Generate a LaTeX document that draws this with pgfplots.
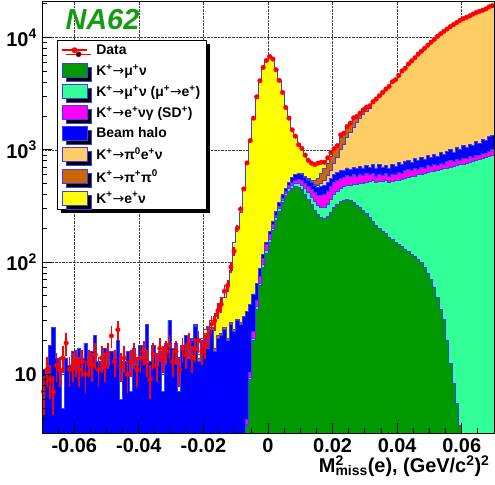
\documentclass[border=0pt]{standalone}
\usepackage{fontspec}
\setmainfont{Liberation Sans}
\newfontfamily\dejavu{DejaVu Sans}
\usepackage{pgfplots}
\pgfplotsset{compat=1.18}
\usepackage{pgfplotstable}
\usetikzlibrary{shadows}

\definecolor{cG}{RGB}{0,153,0}
\definecolor{cA}{RGB}{51,255,153}
\definecolor{cM}{RGB}{255,0,255}
\definecolor{cB}{RGB}{0,0,255}
\definecolor{cO}{RGB}{255,204,102}
\definecolor{cR}{RGB}{204,102,0}
\definecolor{cY}{RGB}{255,255,0}
\definecolor{cLine}{RGB}{60,60,240}
\definecolor{cNA}{RGB}{20,155,20}

\newcommand{\ar}{{\dejavu\mdseries →}}
\newcommand{\sps}[1]{\textsuperscript{#1}}

% bin left edges; G..Y are the cumulative tops of the stack (bottom to top), D = data
\pgfplotstableread{
x G A M B O R Y D
-0.070 1 1 1 11 11 11 11 7
-0.069 1 1 1 10 10 10 10 11
-0.068 1 1 1 18 18 18 18 9
-0.067 1 1 1 26 26 26 26 7
-0.066 1 1 1 14 14 14 14 12
-0.065 1 1 1 11 11 11 11 11
-0.064 1 1 1 5 5 5 5 14
-0.063 1 1 1 14 14 14 14 19
-0.062 1 1 1 12 12 12 12 11
-0.061 1 1 1 16 16 16 16 12
-0.060 1 1 1 11 11 11 11 13
-0.059 1 1 1 17 17 17 17 11
-0.058 1 1 1 14 14 14 14 13
-0.057 1 1 1 19 19 19 19 10
-0.056 1 1 1 12 12 12 12 13
-0.055 1 1 1 16 16 16 16 12
-0.054 1 1 1 22 22 22 22 15
-0.053 1 1 1 13 13 13 13 11
-0.052 1 1 1 11 11 11 11 14
-0.051 1 1 1 17 17 17 17 12
-0.050 1 1 1 12 12 12 12 15
-0.049 1 1 1 16 16 16 16 22
-0.048 1 1 1 14 14 14 14 13
-0.047 1 1 1 20 20 20 20 25
-0.046 1 1 1 6 6 6 6 12
-0.045 1 1 1 13 13 13 13 14
-0.044 1 1 1 16 16 16 16 10
-0.043 1 1 1 7 7 7 7 13
-0.042 1 1 1 17 17 17 17 15
-0.041 1 1 1 12 12 12 12 11
-0.040 1 1 1 18 18 18 18 14
-0.039 1 1 1 14 14 14 14 16
-0.038 1 1 1 28 28 28 28 13
-0.037 1 1 1 13 13 13 13 9
-0.036 1 1 1 18 18 18 18 15
-0.035 1 1 1 12 12 12 12 12
-0.034 1 1 1 16 16 16 16 17
-0.033 1 1 1 7 7 7 7 14
-0.032 1 1 1 19 19 19 19 16
-0.031 1 1 1 30 30 30 30 18
-0.030 1 1 1 17 17 17 17 13
-0.029 1 1 1 19 19 19 19 16
-0.028 1 1 1 7 7 7 7 11
-0.027 1 1 1 18 18 18 18 17
-0.026 1 1 1 22 22 22 22 15
-0.025 1 1 1 14 14 14.5 15 19
-0.024 1 1 1 20 20 20.5 21 14
-0.023 1 1 1 27 27 27.5 28 17
-0.022 1 1 1 13 13 14 15 20
-0.021 1 1 1 19 19 20 21 16
-0.020 1 1 1 22 22 23 25 18
-0.019 1 1 1 17 17 18 27 22
-0.018 1 1 1 25 25 26 30 28
-0.017 1 1 1 16 16 17 33 30
-0.016 1 1 1 21 21 22 37 37
-0.015 1 1 1 22 22 23 41 42
-0.014 1 1 1 25 25 26 48 55
-0.013 1 1 1 20 20 21 62 62
-0.012 1 1 1 28 28 29 85 90
-0.011 1 1 1 24 24 25 150 125
-0.010 1 1 1 30 30 31 200 200
-0.009 1 1 1 28 28 29 280 296
-0.008 1 1 1 33 33 33 450 449
-0.007 3.5 3.6 4 36 36 36 740 765
-0.006 9 9.3 10.5 42 42 42 1180 1211
-0.005 20 21 24 52 52 52 1880 1918
-0.004 38 40 46 65 65 65 2900 2972
-0.003 62 65 74 88 88 88 4100 4128
-0.002 90 95 108 118 118 118 5350 5430
-0.001 120 127 143 150 150 150 6300 6270
0.000 150 158 175 188 188 188 6750 6810
0.001 190 200 215 232 232 232 6400 6455
0.002 235 248 262 285 285 285 5200 5180
0.003 285 300 315 340 340 340 4100 4155
0.004 340 358 372 398 398 398 3200 3250
0.005 390 410 428 455 455 455 2400 2388
0.006 430 455 478 515 515 515 1930 1918
0.007 455 485 515 565 565 565 1520 1509
0.008 468 500 540 600 600 600 1300 1326
0.009 465 500 545 615 615 615 1120 1109
0.010 440 480 530 600 612 612 1010 1030
0.011 405 450 505 570 582 585 900 898
0.012 365 415 475 540 550 555 810 805
0.013 325 380 445 510 515 530 761 761
0.014 290 345 415 480 490 530 739 739
0.015 265 320 395 465 485 560 755 761
0.016 250 305 395 470 500 620 770 776
0.017 245 305 405 480 540 680 785 776
0.018 255 325 430 510 590 760 850 850
0.019 280 360 470 560 660 880 940 946
0.020 305 400 510 600 760 1000 1030 1028
0.021 330 430 540 630 860 1110 1120 1092
0.022 348 455 560 650 1000 1290 1300 1361
0.023 358 470 570 660 1120 1420 1420 1410
0.024 362 480 590 690 1280 1600 1600 1614
0.025 355 485 575 670 1430 1750 1750 1730
0.026 340 490 600 700 1600 1900 1900 1931
0.027 322 495 585 680 1750 2000 2000 1983
0.028 305 498 610 710 1900 2130 2130 2127
0.029 288 505 595 690 2060 2280 2280 2276
0.030 272 510 615 720 2200 2400 2400 2405
0.031 250 520 600 700 2350 2500 2500 2471
0.032 230 530 620 745 2580 2680 2680 2684
0.033 212 515 585 690 2780 2840 2840 2836
0.034 198 525 610 735 2990 2990 2990 3036
0.035 188 520 590 705 3200 3200 3200 3250
0.036 180 530 615 725 3430 3430 3430 3485
0.037 167 510 575 685 3650 3650 3650 3675
0.038 158 525 610 745 3980 3980 3980 4048
0.039 150 535 600 715 4200 4200 4200 4217
0.040 143 540 630 770 4550 4550 4550 4600
0.041 137 545 615 740 4980 4980 4980 5050
0.042 131 560 650 790 5300 5300 5300 5330
0.043 124 565 665 810 5760 5760 5760 5820
0.044 118 580 650 775 6150 6150 6150 6200
0.045 112 585 680 835 6580 6580 6580 6620
0.046 106 600 670 800 7060 7060 7060 7130
0.047 100 605 700 855 7520 7520 7520 7570
0.048 90 615 690 825 8000 8000 8000 8040
0.049 80 625 725 890 8520 8520 8520 8570
0.050 70 640 715 860 9050 9050 9050 9110
0.051 60 645 740 905 9600 9600 9600 9650
0.052 48 660 730 880 10200 10200 10200 10280
0.053 38 665 760 945 10780 10780 10780 10840
0.054 31 680 750 915 11340 11340 11340 11400
0.055 20 690 785 965 11900 11900 11900 11960
0.056 12.5 700 800 1010 12500 12500 12500 12560
0.057 8.3 715 785 955 13050 13050 13050 13120
0.058 5.5 720 820 1045 13600 13600 13600 13670
0.059 3.5 740 810 1005 14200 14200 14200 14270
0.060 1 745 840 1085 14700 14700 14700 14750
0.061 1 760 835 1055 15150 15150 15150 15200
0.062 1 780 870 1125 15600 15600 15600 15650
0.063 1 790 865 1100 16150 16150 16150 16230
0.064 1 805 900 1185 16700 16700 16700 16750
0.065 1 825 895 1150 17150 17150 17150 17200
0.066 1 840 930 1235 17520 17520 17520 17560
0.067 1 860 925 1205 18000 18000 18000 18050
0.068 1 880 975 1320 18700 18700 18700 18800
0.069 1 900 1000 1340 19250 19250 19250 19300
0.070 1 900 1000 1340 19250 19250 19250 19300
}\tab

\begin{document}
\begin{tikzpicture}
\begin{axis}[
    set layers, axis on top,
    scale only axis, width=452bp, height=431.5bp,
    xmin=-0.07, xmax=0.07,
    ymode=log, ymin=3, ymax=21000,
    scaled x ticks=false,
    xtick={-0.06,-0.04,-0.02,0,0.02,0.04,0.06},
    xticklabels={-0.06,-0.04,-0.02,0,0.02,0.04,0.06},
    minor xtick={-0.065,-0.055,-0.05,-0.045,-0.035,-0.03,-0.025,-0.015,-0.01,-0.005,0.005,0.01,0.015,0.025,0.03,0.035,0.045,0.05,0.055,0.065},
    ytick={10,100,1000,10000},
    yticklabels={10,10\sps{2},10\sps{3},10\sps{4}},
    minor ytick={3,4,5,6,7,8,9,20,30,40,50,60,70,80,90,200,300,400,500,600,700,800,900,2000,3000,4000,5000,6000,7000,8000,9000,20000},
    tick pos=left,
    major tick length=10bp, minor tick length=5bp,
    tick style={black, line width=0.8bp},
    axis line style={line width=0.8bp},
    grid=major,
    major grid style={/pgfplots/on layer=axis background, densely dotted, black!75, line width=0.6bp},
    tick label style={font=\fontsize{20}{20}\selectfont\bfseries},
    xticklabel style={inner ysep=5bp},
    yticklabel style={inner xsep=5bp},
    legend style={at={(0.0332,0.911)}, anchor=north west, draw=black, line width=0.6bp,
        fill=white, font=\fontsize{14}{14}\selectfont\bfseries,
        inner xsep=4bp, inner ysep=3bp, row sep=5.6bp, column sep=7bp,
        nodes={inner sep=1.5bp},
        drop shadow={shadow xshift=4bp, shadow yshift=-4bp, fill=black, opacity=1}},
    legend cell align=left,
    reverse legend,
    legend image code/.code={\draw[#1, line width=0.8bp] (0bp,-7bp) rectangle (25bp,7bp);},
]
\addplot[const plot, fill=cY, draw=cLine, line width=0.8bp] table[x=x, y=Y]{\tab} \closedcycle;
\addlegendentry{K\sps{+}\ar e\sps{+}ν}
\addplot[const plot, fill=cR, draw=cLine, line width=0.8bp] table[x=x, y=R]{\tab} \closedcycle;
\addlegendentry{K\sps{+}\ar π\sps{+}π\sps{0}}
\addplot[const plot, fill=cO, draw=cLine, line width=0.8bp] table[x=x, y=O]{\tab} \closedcycle;
\addlegendentry{K\sps{+}\ar π\sps{0}e\sps{+}ν}
\addplot[const plot, fill=cB, draw=cLine, line width=0.8bp] table[x=x, y=B]{\tab} \closedcycle;
\addlegendentry{Beam halo}
\addplot[const plot, fill=cM, draw=cLine, line width=0.8bp] table[x=x, y=M]{\tab} \closedcycle;
\addlegendentry{K\sps{+}\ar e\sps{+}νγ (SD\sps{+})}
\addplot[const plot, fill=cA, draw=cLine, line width=0.8bp] table[x=x, y=A]{\tab} \closedcycle;
\addlegendentry{K\sps{+}\ar μ\sps{+}ν (μ\sps{+}\ar e\sps{+})}
\addplot[const plot, fill=cG, draw=cLine, line width=0.8bp] table[x=x, y=G]{\tab} \closedcycle;
\addlegendentry{K\sps{+}\ar μ\sps{+}ν}
\addplot[only marks, mark=*, mark size=2.3bp, color=red, mark options={fill=red, draw=red},
    skip coords between index={140}{141},
    legend image code/.code={\draw[red, line width=1.5bp] (0bp,0bp) -- (25bp,0bp); \fill[red] (12.5bp,0bp) circle (2.6bp);},
    error bars/.cd, y dir=both, y explicit, error bar style={red, line width=1.8bp}, error mark=none]
    table[x expr=\thisrow{x}+0.0005, y=D, y error expr=sqrt(\thisrow{D})]{\tab};
\addlegendentry{Data}
\end{axis}
\node[anchor=base west, text=cNA, font=\fontsize{29}{29}\selectfont\bfseries\itshape]
    at ([xshift=20bp,yshift=-28.5bp]current axis.north west) {NA62};
\node[anchor=base east, font=\fontsize{20}{20}\selectfont\bfseries]
    at ([xshift=-1bp,yshift=-39.5bp]current axis.south east)
    {M\rlap{\textsuperscript{2}}\textsubscript{miss}(e), (GeV/c\textsuperscript{2})\textsuperscript{2}};
\pgfresetboundingbox
\path[use as bounding box] ([xshift=-42bp,yshift=-52bp]current axis.south west)
    rectangle ([xshift=1bp,yshift=1.5bp]current axis.north east);
\end{tikzpicture}
\end{document}
